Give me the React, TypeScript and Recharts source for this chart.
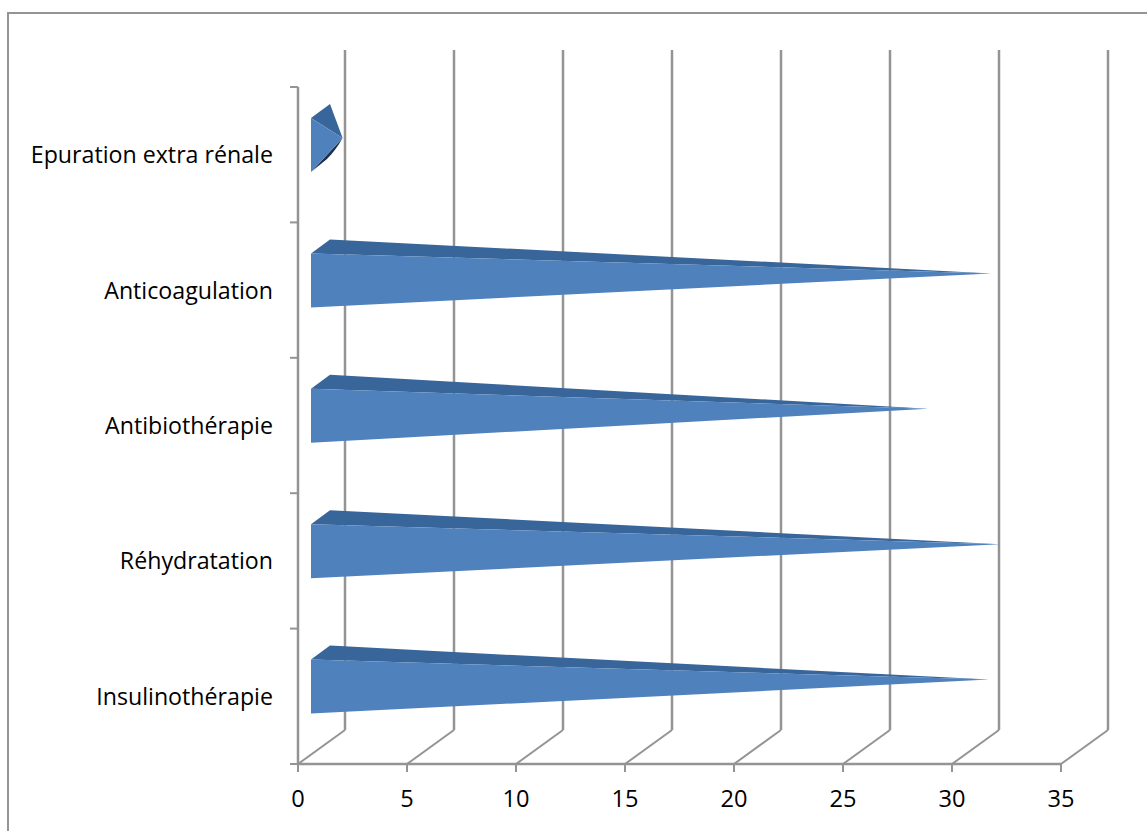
import { BarChart, Bar, XAxis, YAxis, CartesianGrid } from 'recharts';

// Cone-style horizontal bars with a drawn back wall, spreadsheet 3D look.
const CATEGORIES = [
  'Epuration extra rénale',
  'Anticoagulation',
  'Antibiothérapie',
  'Réhydratation',
  'Insulinothérapie',
];
const VALUES = [1.45, 31.2, 28.3, 31.6, 31.1];
const X_TICKS = [0, 5, 10, 15, 20, 25, 30, 35];

const WIDTH = 1147;
const HEIGHT = 831;
const PLOT_TOP = 87;
const PLOT_BOTTOM = 764;
const PLOT_LEFT = 298;
const PLOT_RIGHT = 1061;
const BAND = (PLOT_BOTTOM - PLOT_TOP) / CATEGORIES.length;

// depth of the back wall
const DEPTH_X = 47;
const DEPTH_Y = -34;
const WALL_TOP = 50;

const AXIS_COLOR = '#949494';
const FRONT_COLOR = '#4f81bd';
const TOP_COLOR = '#38659a';
const UNDER_COLOR = '#1f2f4a';
const FONT = '"Open Sans", sans-serif';
const FONT_SIZE = 23.2;

const tableData = CATEGORIES.map((name, i) => ({ name, value: VALUES[i] }));

function Cone({ x, y, width, height }: any) {
  const cy = y + height / 2;
  const ax = x + 13;
  const topY = cy - 37;
  const bottomY = cy + 17;
  const backX = x + 32;
  const backY = cy - 51;
  const tipX = ax + width;
  const tipY = cy - 17;
  return (
    <g>
      {/* short cones show a sliver of their underside */}
      {width < 60 && (
        <path
          d={`M${ax},${bottomY} L${ax + 16},${bottomY - 13} Q${ax + 25},${bottomY - 22} ${tipX},${tipY} Z`}
          fill={UNDER_COLOR}
        />
      )}
      <polygon points={`${ax},${topY} ${backX},${backY} ${tipX},${tipY}`} fill={TOP_COLOR} />
      <polygon points={`${ax},${topY} ${tipX},${tipY} ${ax},${bottomY}`} fill={FRONT_COLOR} />
    </g>
  );
}

function WallLine({ x1, y2 }: any) {
  // floor diagonal plus the upright on the back wall
  const backX = x1 + DEPTH_X;
  return (
    <g stroke={AXIS_COLOR} fill="none">
      <line x1={x1} y1={y2} x2={backX} y2={y2 + DEPTH_Y} strokeWidth={2} />
      <line x1={backX} y1={WALL_TOP} x2={backX} y2={y2 + DEPTH_Y} strokeWidth={2.5} />
    </g>
  );
}

function XTick({ x, payload }: any) {
  return (
    <g>
      <line x1={x} y1={PLOT_BOTTOM} x2={x} y2={PLOT_BOTTOM + 8} stroke={AXIS_COLOR} strokeWidth={2} />
      <text x={x} y={PLOT_BOTTOM + 42.5} textAnchor="middle" fontFamily={FONT} fontSize={23.6} fill="#000">
        {payload.value}
      </text>
    </g>
  );
}

function YTick({ y, payload, index }: any) {
  return (
    <g>
      <line x1={PLOT_LEFT - 8} y1={y - BAND / 2} x2={PLOT_LEFT} y2={y - BAND / 2} stroke={AXIS_COLOR} strokeWidth={2} />
      {index === CATEGORIES.length - 1 && (
        <line x1={PLOT_LEFT - 8} y1={y + BAND / 2} x2={PLOT_LEFT} y2={y + BAND / 2} stroke={AXIS_COLOR} strokeWidth={2} />
      )}
      <text x={273} y={y + 8.5} textAnchor="end" fontFamily={FONT} fontSize={FONT_SIZE} fill="#000">
        {payload.value}
      </text>
    </g>
  );
}

export default function App() {
  return (
    <div style={{ position: 'absolute', left: 0, top: 0, width: WIDTH, height: HEIGHT, background: '#fff', overflow: 'hidden' }}>
      <div
        style={{
          position: 'absolute',
          left: 7,
          top: 12,
          width: WIDTH,
          height: HEIGHT,
          borderLeft: `2px solid ${AXIS_COLOR}`,
          borderTop: `2px solid ${AXIS_COLOR}`,
        }}
      />
      <BarChart
        width={WIDTH}
        height={HEIGHT}
        data={tableData}
        layout="vertical"
        barSize={54}
        margin={{ top: PLOT_TOP, right: WIDTH - PLOT_RIGHT, bottom: 0, left: 0 }}
        style={{ position: 'absolute', left: 0, top: 0 }}
      >
        <CartesianGrid horizontal={false} vertical={(p: any) => <WallLine key={p.key} {...p} />} />
        <XAxis
          type="number"
          domain={[0, 35]}
          ticks={X_TICKS}
          interval={0}
          height={HEIGHT - PLOT_BOTTOM}
          tick={<XTick />}
          tickLine={false}
          axisLine={{ stroke: AXIS_COLOR, strokeWidth: 2.5 }}
        />
        <YAxis
          type="category"
          dataKey="name"
          width={PLOT_LEFT}
          interval={0}
          tick={<YTick />}
          tickLine={false}
          axisLine={{ stroke: AXIS_COLOR, strokeWidth: 2.5 }}
        />
        <Bar dataKey="value" shape={<Cone />} isAnimationActive={false} />
      </BarChart>
    </div>
  );
}
